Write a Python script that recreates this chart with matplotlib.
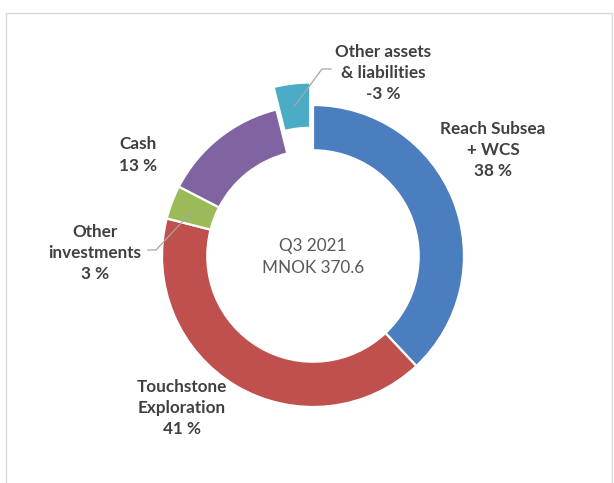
import matplotlib
matplotlib.use("Agg")
import matplotlib.pyplot as plt
from matplotlib.patches import Rectangle
import numpy as np

# ---- data ----
categories = ["Reach Subsea\n+ WCS", "Touchstone\nExploration", "Other\ninvestments", "Cash",
              "Other assets\n& liabilities"]
shares = [38.0, 41.0, 3.6, 13.5, 3.9]          # slice sizes read from the ring
pct_labels = ["38 %", "41 %", "3 %", "13 %", "-3 %"]
colors = ["#4A7EBF", "#C0504D", "#9BBB59", "#8064A2", "#4BACC6"]
center_text = "Q3 2021\nMNOK 370.6"

# ---- layout (pixels) ----
W, H, DPI = 614, 483, 100
CX, CY, R = 313, 256, 151
label_pos = [(493, 150), (182, 408), (95, 253), (138, 155), (383, 73)]

plt.rcParams['font.family'] = ['Lato', 'DejaVu Sans']

fig = plt.figure(figsize=(W / DPI, H / DPI), dpi=DPI)
fig.patch.set_facecolor("white")
ax = fig.add_axes([0, 0, 1, 1])

def p2d(px, py):
    return ((px - CX) / R, (CY - py) / R)

explode = [0, 0, 0, 0, 0.15]
wedges, _ = ax.pie(shares, colors=colors, startangle=90, counterclock=False,
                   radius=1.0, explode=explode,
                   wedgeprops=dict(width=0.3, edgecolor="white", linewidth=1.6))

ax.set_xlim(-CX / R, (W - CX) / R)
ax.set_ylim(-(H - CY) / R, CY / R)
ax.set_aspect('auto')
ax.axis('off')

# labels
for cat, pct, (px, py) in zip(categories, pct_labels, label_pos):
    x, y = p2d(px, py)
    ax.text(x, y, cat + "\n" + pct, ha="center", va="center", fontsize=12.3,
            fontweight="bold", color="#404040", linespacing=1.42)

# leader lines from wedge middles
def wedge_mid(i, rad=0.85):
    w = wedges[i]
    ang = np.deg2rad((w.theta1 + w.theta2) / 2)
    cx, cy = w.center
    return cx + rad * np.cos(ang), cy + rad * np.sin(ang)

mx, my = wedge_mid(4)
a1 = p2d(331, 69); a2 = p2d(322, 69)
ax.plot([a1[0], a2[0], mx], [a1[1], a2[1], my], color="#A6A6A6", lw=0.9)

mx, my = wedge_mid(2)
b1 = p2d(148, 250); b2 = p2d(156, 250)
ax.plot([b1[0], b2[0], mx], [b1[1], b2[1], my], color="#A6A6A6", lw=0.9)

# center text
ax.text(0, p2d(0, 257)[1], center_text, ha="center", va="center", fontsize=12.3,
        color="#595959", linespacing=1.42)

# frame border
fig.patches.append(Rectangle((6 / W, -0.1), (612 - 6) / W, 1.1 - 13 / H,
                             transform=fig.transFigure, fill=False,
                             edgecolor="#D9D9D9", lw=1.0))

fig.savefig("out.png", dpi=DPI, facecolor="white")
